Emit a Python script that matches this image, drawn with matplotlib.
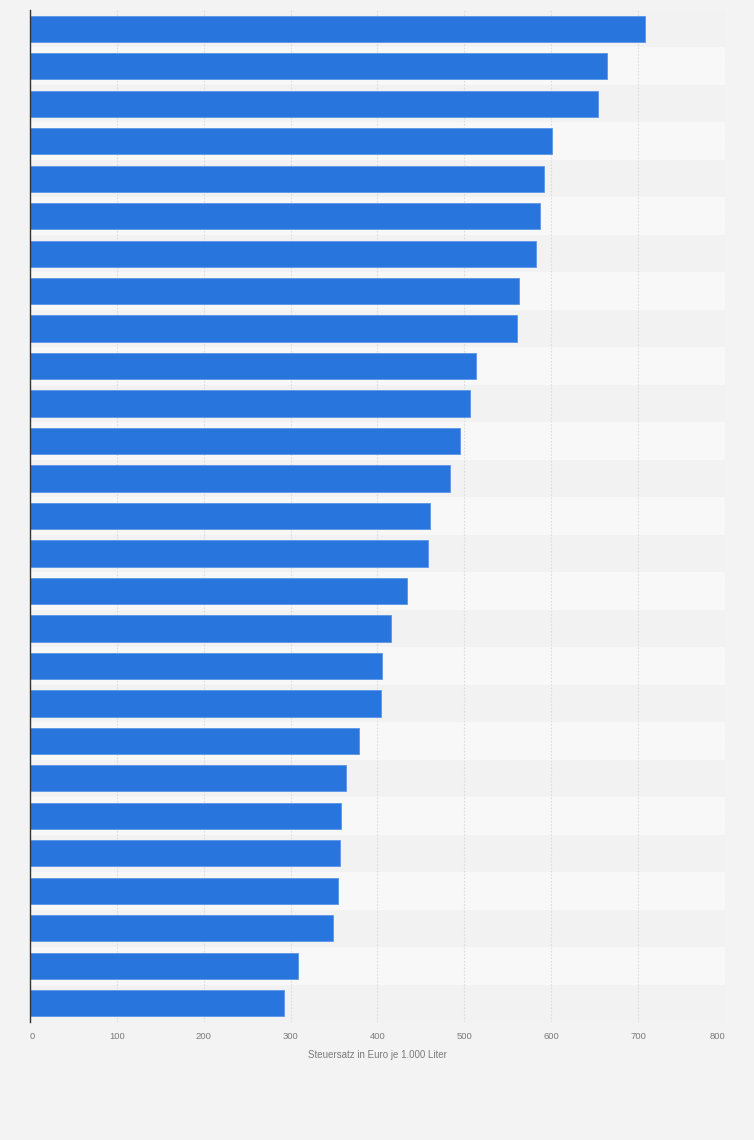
import matplotlib
matplotlib.use("Agg")
import matplotlib.pyplot as plt

# Steuersatz in Euro je 1.000 Liter, von oben nach unten
tax_rates = [
    708, 664, 654, 601, 592, 587, 582, 563, 561,
    513, 507, 495, 484, 461, 458, 434, 415, 405,
    404, 379, 364, 358, 357, 355, 349, 308, 292,
]
x_ticks = [0, 100, 200, 300, 400, 500, 600, 700, 800]
x_label = "Steuersatz in Euro je 1.000 Liter"

BG = "#f3f3f3"
BAR_COLOR = "#2876dd"
TEXT_COLOR = "#7a7a7a"

plt.rcParams["font.family"] = ["Liberation Sans", "DejaVu Sans"]


def main():
    fig = plt.figure(figsize=(7.54, 11.4), dpi=100, facecolor=BG)
    ax = fig.add_axes([30 / 754, 1 - 1022 / 1140, 695 / 754, 1012 / 1140])
    ax.set_facecolor(BG)

    n = len(tax_rates)
    positions = list(range(n))

    # alternating row bands
    for i in positions:
        color = "#f2f2f2" if i % 2 == 0 else "#f8f8f8"
        ax.axhspan(i - 0.5, i + 0.5, color=color, zorder=0, lw=0)

    ax.barh(positions, tax_rates, height=0.7, color=BAR_COLOR,
            edgecolor="#5b95e6", linewidth=0.6, zorder=3)

    ax.set_ylim(n - 0.5, -0.5)
    ax.set_xlim(0, 800)
    ax.set_xticks(x_ticks)
    labels = ax.set_xticklabels([str(t) for t in x_ticks], color=TEXT_COLOR, fontsize=6.8)
    labels[0].set_ha("left")
    labels[-1].set_ha("right")
    ax.set_yticks([])
    ax.tick_params(axis="x", length=0, pad=7)

    ax.grid(axis="x", color="#dcdcdc", linestyle=(0, (1.5, 1.5)), linewidth=0.8, zorder=1)
    ax.set_axisbelow(True)

    for side in ["top", "right", "bottom"]:
        ax.spines[side].set_visible(False)
    ax.spines["left"].set_color("#333333")
    ax.spines["left"].set_linewidth(1)
    ax.spines["left"].set_zorder(4)

    ax.set_xlabel(x_label, color=TEXT_COLOR, fontsize=7, labelpad=7)

    fig.savefig("out.png", dpi=100, facecolor=BG)


if __name__ == "__main__":
    main()
